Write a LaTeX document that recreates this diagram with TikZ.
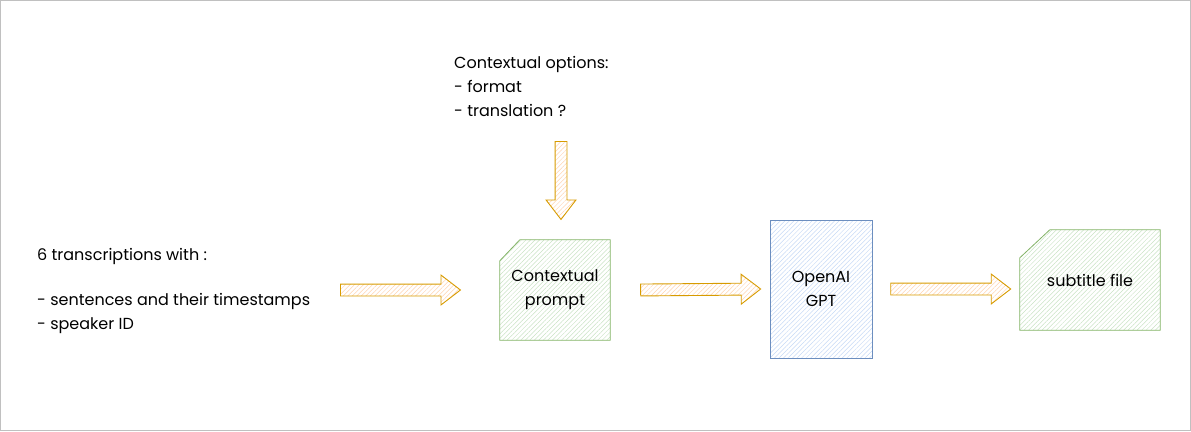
\documentclass[tikz,border=0pt]{standalone}
\usepackage{fontspec}
\setmainfont{Poppins}
\usetikzlibrary{shapes.arrows,patterns.meta,backgrounds}
\definecolor{greenline}{HTML}{82B366}
\definecolor{greenhatch}{HTML}{C9E2C4}
\definecolor{blueline}{HTML}{6C8EBF}
\definecolor{bluehatch}{HTML}{C6D9F5}
\definecolor{arrowline}{HTML}{D79B00}
\definecolor{arrowhatch}{HTML}{FFD3B0}
\definecolor{frameline}{HTML}{C0C0C0}
\begin{document}
\begin{tikzpicture}[x=1pt, y=-1pt, font=\fontsize{16}{24}\selectfont]
        \tikzstyle{label}=[align=left, inner sep=0pt]
        \tikzstyle{doc}=[rectangle, align=center]
        \tikzstyle{docline}=[draw=greenline, line width=0.8pt, pattern={Lines[angle=45,distance=3.2pt,line width=0.5pt]}, pattern color=greenhatch]
        \tikzstyle{model}=[draw=blueline, line width=0.8pt, rectangle, align=center, pattern={Lines[angle=45,distance=3.2pt,line width=0.5pt]}, pattern color=bluehatch]
        \tikzstyle{harrow}=[draw=arrowline, line width=0.9pt, single arrow, single arrow head extend=9pt, single arrow tip angle=75, inner xsep=0pt, inner ysep=5.5pt, sloped, allow upside down, pos=0, anchor=tail, pattern={Lines[angle=45,distance=3.2pt,line width=0.5pt]}, pattern color=arrowhatch]

        \useasboundingbox (0,0) rectangle (1191,431);
        \draw[frameline, line width=1pt] (0.5,0.5) rectangle (1190.5,430.5);

        \node[label, anchor=west](options) at (454,86){Contextual options:\\- format\\- translation ?};
        \node[label, anchor=west](transcripts) at (37,291){6 transcriptions with :\\[21pt]- sentences and their timestamps\\- speaker ID};
        \node[doc, minimum width=110pt, minimum height=100pt](prompt) at (555,290){Contextual\\prompt};
        \node[model, minimum width=102pt, minimum height=138pt](gpt) at (821,289){OpenAI\\GPT};
        \node[doc, minimum width=140pt, minimum height=100pt](subtitles) at (1090,280){subtitle file};

        % cut-corner outlines behind the two documents
        \begin{scope}[on background layer]
        \draw[docline] ([yshift=-21pt]prompt.north west) -- ([xshift=20pt]prompt.north west) -- (prompt.north east) -- (prompt.south east) -- (prompt.south west) -- cycle;
        \draw[docline] ([yshift=-28pt]subtitles.north west) -- ([xshift=30pt]subtitles.north west) -- (subtitles.north east) -- (subtitles.south east) -- (subtitles.south west) -- cycle;
        \end{scope}

        \coordinate (optout) at (561,141);
        \coordinate (promptin) at (561,219);
        \coordinate (transout) at (340,290);

        \path (optout) -- node[harrow, minimum height=78pt]{} (promptin);
        \path (transout) -- node[harrow, minimum height=120pt]{} ([xshift=-40pt]prompt.west);
        \path ([xshift=30pt]prompt.east) -- node[harrow, minimum height=120pt]{} ([xshift=-10pt]gpt.west);
        \path ([xshift=18pt]gpt.east) -- node[harrow, minimum height=120pt]{} ([xshift=-10pt]subtitles.west |- gpt.west);

        \end{tikzpicture}
\end{document}
